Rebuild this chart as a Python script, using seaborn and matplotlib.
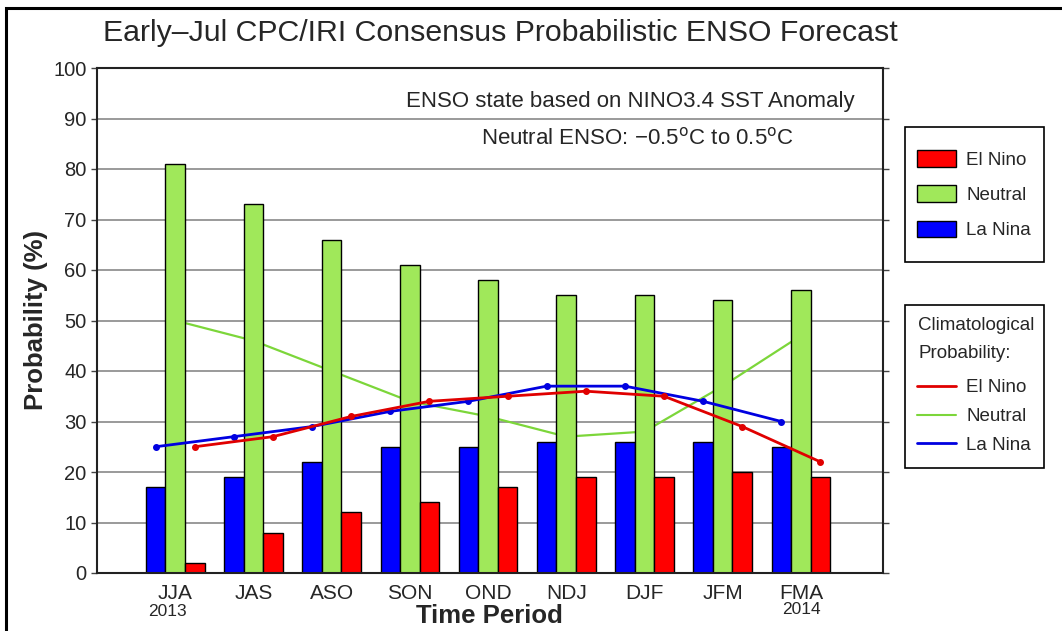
import numpy as np
import pandas as pd
import matplotlib
matplotlib.use("Agg")
import matplotlib.pyplot as plt
from matplotlib.patches import Patch, Rectangle
from matplotlib.lines import Line2D
import seaborn as sns

periods = ["JJA", "JAS", "ASO", "SON", "OND", "NDJ", "DJF", "JFM", "FMA"]
la_nina = [17, 19, 22, 25, 25, 26, 26, 26, 25]
neutral = [81, 73, 66, 61, 58, 55, 55, 54, 56]
el_nino = [2, 8, 12, 14, 17, 19, 19, 20, 19]
clim_el_nino = [25, 27, 31, 34, 35, 36, 35, 29, 22]
clim_neutral = [50, 46, 40, 34, 31, 27, 28, 37, 47]
clim_la_nina = [25, 27, 29, 32, 34, 37, 37, 34, 30]
categories = ["La Nina", "Neutral", "El Nino"]
yticks = list(range(0, 101, 10))

colors = {"La Nina": "#0000FF", "Neutral": "#A0E85A", "El Nino": "#FF0000"}

sns.set_theme(style="white")
plt.rcParams["font.family"] = ["Liberation Sans", "DejaVu Sans"]

W, H = 1062, 631
def fx(px):
    return px / W
def fy(py):
    return 1 - py / H

df = pd.DataFrame({
    "period": periods * 3,
    "prob": la_nina + neutral + el_nino,
    "category": [c for c in categories for _ in periods],
})

fig = plt.figure(figsize=(W / 100, H / 100), dpi=100)
ax = fig.add_axes([fx(97), fy(573), 786 / W, 505 / H])

for y in yticks[1:-1]:
    ax.axhline(y, color="#9a9a9a", lw=1.4, zorder=0)

bw = 0.75 / 3
xpos = np.arange(len(periods))
# neutral climatology line sits behind the bars
ax.plot(xpos, clim_neutral, color="#7CD63A", lw=1.6, zorder=1)

sns.barplot(data=df, x="period", y="prob", hue="category", hue_order=categories,
            palette=colors, width=0.75, edgecolor="black", linewidth=1.0,
            saturation=1, ax=ax, legend=False, zorder=2)

ax.plot(xpos - bw, clim_la_nina, color="#0000E0", lw=2, marker="o", ms=4, zorder=4)
ax.plot(xpos + bw, clim_el_nino, color="#E00000", lw=2, marker="o", ms=4, zorder=5)

ax.set_xlim(-1, 9.05)
ax.set_ylim(0, 100)
ax.set_yticks(yticks)
ax.set_yticklabels([str(v) for v in yticks])
ax.tick_params(axis="y", which="both", left=True, right=True, direction="out",
               length=4, width=1, color="#444444", labelsize=14.5, pad=3.5)
ax.tick_params(axis="x", bottom=False, length=0, labelsize=15, pad=8)
for s in ax.spines.values():
    s.set_color("#222222")
    s.set_linewidth(1.5)
ax.set_xlabel("")
ax.set_ylabel("Probability (%)", fontsize=18.5, fontweight="bold")
ax.yaxis.set_label_coords((48 - 97) / 786, 0.5)

fig.text(fx(500), fy(33), "Early\u2013Jul CPC/IRI Consensus Probabilistic ENSO Forecast",
         ha="center", va="center", fontsize=21.8)
fig.text(fx(489), fy(616), "Time Period", ha="center", va="center",
         fontsize=18.5, fontweight="bold")
fig.text(fx(167), fy(611), "2013", ha="center", va="center", fontsize=12.5)
fig.text(fx(801), fy(610), "2014", ha="center", va="center", fontsize=12.5)

fig.text(fx(855), fy(101), "ENSO state based on NINO3.4 SST Anomaly",
         ha="right", va="center", fontsize=16)
fig.text(fx(638), fy(138), "Neutral ENSO: \u22120.5$^{\\mathrm{o}}$C to 0.5$^{\\mathrm{o}}$C",
         ha="center", va="center", fontsize=16)

lfs = 13.5
bar_handles = [Patch(facecolor=colors[c], edgecolor="black", label=c)
               for c in ["El Nino", "Neutral", "La Nina"]]
leg1 = fig.legend(handles=bar_handles, loc="upper left",
                  bbox_to_anchor=(fx(917), fy(150)), fontsize=lfs,
                  frameon=False, handlelength=2.08, handleheight=1.0,
                  labelspacing=0.88, borderpad=0, handletextpad=0.55,
                  borderaxespad=0)

line_handles = [Line2D([0], [0], color="#E00000", lw=2, label="El Nino"),
                Line2D([0], [0], color="#7CD63A", lw=1.5, label="Neutral"),
                Line2D([0], [0], color="#0000E0", lw=2, label="La Nina")]
leg2 = fig.legend(handles=line_handles, loc="upper left",
                  bbox_to_anchor=(fx(917), fy(379)), fontsize=lfs,
                  frameon=False, handlelength=2.08, labelspacing=0.63,
                  borderpad=0, handletextpad=0.55, borderaxespad=0)
fig.text(fx(918), fy(325), "Climatological", ha="left", va="center", fontsize=lfs)
fig.text(fx(918), fy(353), "Probability:", ha="left", va="center", fontsize=lfs)

for (x0, y0, x1, y1) in [(905, 127, 1044, 262), (905, 305, 1044, 468)]:
    fig.patches.append(Rectangle((fx(x0), fy(y1)), (x1 - x0) / W, (y1 - y0) / H,
                                 transform=fig.transFigure, fill=False,
                                 edgecolor="black", lw=1.2, figure=fig))

fig.patches.append(Rectangle((fx(6), -0.2), 1.2, 1.2 - 8 / H, transform=fig.transFigure,
                             fill=False, edgecolor="black", lw=2.2, figure=fig))

fig.savefig("out.png", dpi=100)
